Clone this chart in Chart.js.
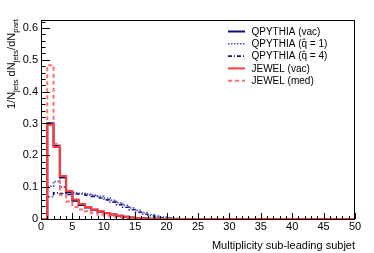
<!DOCTYPE html>
<html>
<head>
<meta charset="utf-8">
<script src="https://cdn.jsdelivr.net/npm/chart.js@4"></script>
<style>
  html, body { margin: 0; padding: 0; background: #fff; }
  #wrap { width: 374px; height: 253px; }
</style>
</head>
<body>
<div id="wrap"><canvas id="chart"></canvas></div>
<script>
// bin contents, bins of width 1 starting at 0 (50 bins, 0..50)
const qpythiaVac = [0, 0.301, 0.230, 0.130, 0.084, 0.057, 0.044, 0.036, 0.029, 0.023, 0.018, 0.014, 0.010, 0.007, 0.005, 0.003, 0.002, 0.001, 0.001, 0, 0, 0, 0, 0, 0, 0, 0, 0, 0, 0, 0, 0, 0, 0, 0, 0, 0, 0, 0, 0, 0, 0, 0, 0, 0, 0, 0, 0, 0, 0];
const qpythiaQ1 = [0, 0.103, 0.118, 0.100, 0.085, 0.082, 0.081, 0.078, 0.075, 0.071, 0.066, 0.059, 0.051, 0.043, 0.035, 0.027, 0.020, 0.014, 0.009, 0.006, 0.003, 0.002, 0.001, 0, 0, 0, 0, 0, 0, 0, 0, 0, 0, 0, 0, 0, 0, 0, 0, 0, 0, 0, 0, 0, 0, 0, 0, 0, 0, 0];
const qpythiaQ4 = [0, 0.070, 0.082, 0.080, 0.077, 0.079, 0.078, 0.075, 0.071, 0.066, 0.060, 0.053, 0.045, 0.037, 0.029, 0.021, 0.015, 0.010, 0.006, 0.003, 0.002, 0.001, 0, 0, 0, 0, 0, 0, 0, 0, 0, 0, 0, 0, 0, 0, 0, 0, 0, 0, 0, 0, 0, 0, 0, 0, 0, 0, 0, 0];
const jewelVac = [0, 0.296, 0.226, 0.135, 0.088, 0.061, 0.047, 0.038, 0.030, 0.024, 0.019, 0.014, 0.010, 0.007, 0.005, 0.003, 0.002, 0.001, 0.001, 0, 0, 0, 0, 0, 0, 0, 0, 0, 0, 0, 0, 0, 0, 0, 0, 0, 0, 0, 0, 0, 0, 0, 0, 0, 0, 0, 0, 0, 0, 0];
const jewelMed = [0, 0.483, 0.236, 0.075, 0.055, 0.038, 0.030, 0.024, 0.018, 0.013, 0.010, 0.007, 0.005, 0.003, 0.002, 0.001, 0, 0, 0, 0, 0, 0, 0, 0, 0, 0, 0, 0, 0, 0, 0, 0, 0, 0, 0, 0, 0, 0, 0, 0, 0, 0, 0, 0, 0, 0, 0, 0, 0, 0];

const xTicks = [0, 5, 10, 15, 20, 25, 30, 35, 40, 45, 50];
const yTicks = [0, 0.1, 0.2, 0.3, 0.4, 0.5, 0.6];
const xMax = 50;
const yMax = 0.625;

const FONT = "'Liberation Sans', Arial, Helvetica, sans-serif";

// histogram outline: left edges + closing right edge
function toSteps(bins) {
    const pts = bins.map((v, i) => ({ x: i, y: v }));
    pts.push({ x: bins.length, y: bins[bins.length - 1] });
    return pts;
}

function hist(label, bins, color, width, dash, order) {
    return {
        label: label,
        data: toSteps(bins),
        borderColor: color,
        borderWidth: width,
        borderDash: dash,
        stepped: 'before',
        pointRadius: 0,
        fill: false,
        order: order,
        clip: 4,
    };
}

const rootFrame = {
    id: 'rootFrame',
    afterDatasetsDraw(chart) {
        const ctx = chart.ctx;
        const a = chart.chartArea;
        const xs = chart.scales.x;
        const ys = chart.scales.y;
        ctx.save();
        ctx.strokeStyle = '#000';
        ctx.lineWidth = 1;
        ctx.strokeRect(a.left + 0.5, a.top + 0.5, a.right - a.left - 1, a.bottom - a.top);

        // inward ticks on x
        ctx.beginPath();
        for (let v = 0; v <= xMax; v += 1) {
            const px = Math.round(xs.getPixelForValue(v)) + 0.5;
            const len = v % 5 === 0 ? 6 : 3;
            ctx.moveTo(px, a.bottom);
            ctx.lineTo(px, a.bottom - len);
        }
        // inward ticks on y
        for (let i = 0; i * 0.02 <= yMax + 1e-9; i++) {
            const py = Math.round(ys.getPixelForValue(i * 0.02)) + 0.5;
            const len = i % 5 === 0 ? 9 : 4.5;
            ctx.moveTo(a.left, py);
            ctx.lineTo(a.left + len, py);
        }
        ctx.stroke();

        // y title with subscripts, rotated, right aligned at top
        const parts = [
            ['1/N', false], ['jets', true], [' dN', false], ['jets', true], ['/dN', false], ['part', true]
        ];
        const big = '11px ' + FONT;
        const small = '8px ' + FONT;
        let total = 0;
        parts.forEach(p => { ctx.font = p[1] ? small : big; total += ctx.measureText(p[0]).width; });
        ctx.translate(15, a.top - 1);
        ctx.rotate(-Math.PI / 2);
        ctx.fillStyle = '#000';
        ctx.textBaseline = 'alphabetic';
        ctx.textAlign = 'left';
        let x = -total;
        parts.forEach(p => {
            ctx.font = p[1] ? small : big;
            ctx.fillText(p[0], x, p[1] ? 3 : 0);
            x += ctx.measureText(p[0]).width;
        });
        ctx.restore();

        // legend
        ctx.save();
        const rowY = [31.5, 43.8, 56.1, 68.4, 80.7];
        rowY.forEach((y, idx) => {
            const ds = chart.data.datasets[idx];
            ctx.strokeStyle = ds.borderColor;
            ctx.lineWidth = ds.borderWidth;
            ctx.setLineDash(ds.borderDash);
            ctx.beginPath();
            ctx.moveTo(228, y);
            ctx.lineTo(245, y);
            ctx.stroke();
            ctx.setLineDash([]);
            ctx.fillStyle = '#000';
            ctx.font = '10px ' + FONT;
            ctx.textBaseline = 'middle';
            ctx.textAlign = 'left';
            ctx.fillText(ds.label, 251.5, y + 0.5);
        });
        ctx.restore();
    }
};

new Chart(document.getElementById('chart'), {
    type: 'line',
    data: {
        datasets: [
            hist('QPYTHIA (vac)', qpythiaVac, '#0b0b70', 2, [], 2),
            hist('QPYTHIA (q\u0302 = 1)', qpythiaQ1, '#4a4aae', 1.6, [1.5, 1.5], 3),
            hist('QPYTHIA (q\u0302 = 4)', qpythiaQ4, '#15157c', 1.6, [4, 2, 1, 2], 4),
            hist('JEWEL (vac)', jewelVac, '#ff3c3c', 2, [], 0),
            hist('JEWEL (med)', jewelMed, '#ff6e6e', 2, [4, 3], 1),
        ]
    },
    options: {
        responsive: true,
        maintainAspectRatio: false,
        animation: false,
        events: [],
        layout: { padding: { left: 0, right: 19, top: 20, bottom: 0 } },
        plugins: {
            legend: { display: false },
            tooltip: { enabled: false },
        },
        scales: {
            x: {
                type: 'linear',
                min: 0,
                max: xMax,
                afterBuildTicks: s => { s.ticks = xTicks.map(v => ({ value: v })); },
                afterFit: s => { s.height = 34; },
                grid: { display: false, drawTicks: false },
                border: { display: false },
                ticks: {
                    color: '#000',
                    font: { family: FONT, size: 11 },
                    padding: 1,
                    maxRotation: 0,
                    autoSkip: false,
                },
                title: {
                    display: true,
                    text: 'Multiplicity sub-leading subjet',
                    align: 'end',
                    color: '#000',
                    font: { family: FONT, size: 11 },
                    padding: { top: 4, bottom: 0 },
                },
            },
            y: {
                type: 'linear',
                min: 0,
                max: yMax,
                afterBuildTicks: s => { s.ticks = yTicks.map(v => ({ value: v })); },
                afterFit: s => { s.width = 41; },
                grid: { display: false, drawTicks: false },
                border: { display: false },
                ticks: {
                    color: '#000',
                    font: { family: FONT, size: 11 },
                    padding: 3,
                    autoSkip: false,
                    callback: v => v === 0 ? '0' : v.toFixed(1),
                },
            },
        },
    },
    plugins: [rootFrame],
});
</script>
</body>
</html>
